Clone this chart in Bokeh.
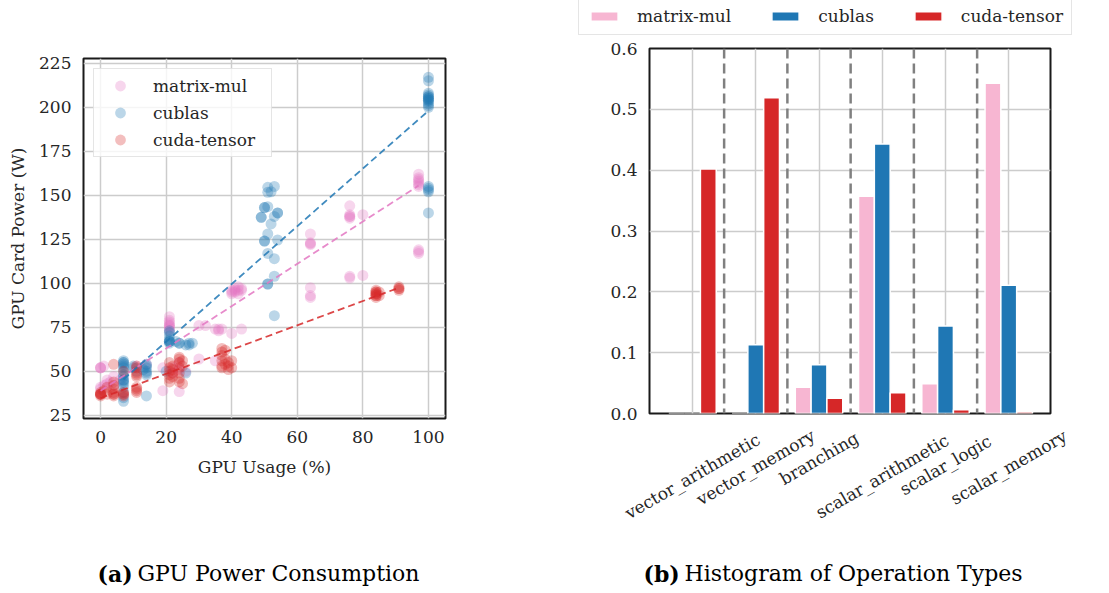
import numpy as np
from bokeh.plotting import figure
from bokeh.models import Range1d, FixedTicker, Legend, LegendItem, Label, Span, PrintfTickFormatter
from bokeh.layouts import row, column
from bokeh.embed import file_html
from bokeh.resources import INLINE

# ---------------- data: (a) GPU power consumption ----------------
series_names = ["matrix-mul", "cublas", "cuda-tensor"]

mm_x = [0, 0, 0, 0, 0, 1, 1, 2, 2, 3, 4, 4, 6, 11, 11, 14, 19, 19,
        21, 21, 21, 21, 21, 21, 21, 21, 21, 22, 22, 24, 24, 24, 26,
        30, 30, 32, 35, 35, 36, 36, 37, 40, 40, 40, 40, 41, 41, 41,
        42, 42, 42, 43, 43, 43, 64, 64, 64, 64, 64, 64, 64,
        76, 76, 76, 76, 76, 76, 76, 80, 80,
        97, 97, 97, 97, 97, 97, 97, 97, 97, 97]
mm_y = [52, 52, 52, 41, 40, 53, 42, 43, 45, 44, 47, 42, 45, 53, 52, 54, 52, 39,
        81, 79, 78, 77, 76, 76, 75, 74, 73, 52, 49, 38.5, 55, 51, 50,
        76, 57, 76, 56, 74, 73, 74, 74, 71.5, 96, 95, 94, 97, 96, 95,
        98, 96, 94, 74, 97, 96, 93, 92, 97.5, 123, 122, 122.5, 128,
        104, 103, 138, 137, 139, 144, 138, 104.5, 139,
        162, 159, 158, 157, 156, 160, 155, 119, 118, 117]

cb_x = [7, 7, 7, 7, 7, 7, 7, 7, 7, 7, 7, 7, 7, 7, 7, 7, 7,
        10, 10, 11, 13, 14, 14, 14, 14, 14, 14, 14, 20,
        21, 21, 21, 21, 21, 21, 21, 21, 23, 24, 24, 26, 26, 27, 27, 28,
        49, 49, 50, 50, 50, 50, 51, 51, 51, 51, 51, 51, 51, 52, 52,
        53, 53, 53, 53, 53, 54, 54, 54,
        100, 100, 100, 100, 100, 100, 100, 100, 100, 100, 100, 100, 100, 100,
        100, 100, 100, 100, 100]
cb_y = [56, 55, 55, 54, 53, 52, 50, 48, 47, 45, 45, 44, 43, 41, 38, 35, 33,
        53, 52, 50, 51, 54, 53, 52, 50, 49, 48, 36, 50,
        67, 67, 66, 68, 67, 70, 72, 73, 67, 66, 66, 65, 49, 65, 66, 66,
        137.5, 137.5, 143, 143, 124, 124, 154.5, 151.7, 128, 117, 99.6, 99.6, 143.5, 133.7, 152,
        138, 114, 104, 81.6, 155, 140, 140, 124.6,
        217, 215, 208, 207, 206, 205, 204, 203, 202, 201, 200, 205, 206, 204,
        155, 154, 153, 152, 140]

ct_x = [0, 0, 0, 0, 0, 0, 1, 2, 2, 4, 4, 4, 4, 4, 4, 4, 4,
        7, 7, 7, 7, 7, 11, 11, 11, 11, 11, 11, 11, 11, 11,
        21, 21, 21, 21, 21, 21, 22, 22, 22, 22,
        24, 24, 24, 24, 24, 24, 24, 25, 25, 25,
        37, 37, 37, 37, 37, 37, 38, 38, 38, 39, 39, 39, 40, 40,
        84, 84, 84, 84, 84, 84, 84, 84, 85, 85, 91, 91, 91, 91]
ct_y = [37, 37, 37, 37, 36, 38, 39, 37, 41, 37, 36, 38, 40, 42, 44, 37, 54,
        37, 37, 38, 36, 50, 38, 39, 40, 41, 47, 48, 49, 52, 53,
        50, 48, 46, 44, 52, 55, 53, 49, 47, 51,
        57, 55, 52, 49, 46, 44, 58, 53, 43, 56,
        63, 61, 59, 56, 53, 52, 62, 57, 54, 55, 51, 53, 56, 52,
        96, 95, 94, 93, 92, 95, 94, 93, 95, 93, 98, 97, 96, 97]

# trend lines (endpoints)
trend_x0 = [0, 7, 0]
trend_y0 = [39.0, 45.5, 34.8]
trend_x1 = [97, 100, 91]
trend_y1 = [155.5, 198.0, 97.5]

# ---------------- data: (b) histogram of operation types ----------------
categories = ["vector_arithmetic", "vector_memory", "branching",
              "scalar_arithmetic", "scalar_logic", "scalar_memory"]
hist_mm = [0.0, 0.0, 0.043, 0.357, 0.049, 0.543]
hist_cb = [0.0, 0.113, 0.080, 0.443, 0.144, 0.211]
hist_ct = [0.402, 0.519, 0.025, 0.034, 0.006, 0.003]

x_ticks_a = [0, 20, 40, 60, 80, 100]
y_ticks_a = [25, 50, 75, 100, 125, 150, 175, 200, 225]
y_ticks_b = [0.0, 0.1, 0.2, 0.3, 0.4, 0.5, 0.6]

caption_a = ["(a)", "GPU Power Consumption"]
caption_b = ["(b)", "Histogram of Operation Types"]

FONT = "DejaVu Serif"
TXT = "#262626"
C_PINK, C_BLUE, C_RED = "#e377c2", "#1f77b4", "#d62728"
C_PINK_L = "#f7b6d2"


def style(p):
    p.background_fill_color = "white"
    p.border_fill_color = "white"
    p.outline_line_color = "#1a1a1a"
    p.outline_line_width = 2
    for ax in p.axis:
        ax.axis_line_color = None
        ax.major_tick_line_color = None
        ax.minor_tick_line_color = None
        ax.major_tick_in = 0
        ax.major_tick_out = 0
        ax.major_label_text_font = FONT
        ax.major_label_text_font_size = "17px"
        ax.major_label_text_color = TXT
        ax.major_label_standoff = 12
        ax.axis_label_text_font = FONT
        ax.axis_label_text_font_size = "17px"
        ax.axis_label_text_font_style = "normal"
        ax.axis_label_text_color = TXT
        ax.axis_label_standoff = 8
    for g in p.grid:
        g.grid_line_color = "#cccccc"
        g.grid_line_width = 1.5


def blank(w, h, xr, yr):
    f = figure(width=w, height=h, output_backend="svg", toolbar_location=None,
               x_range=xr, y_range=yr, x_axis_type=None, y_axis_type=None,
               min_border=0, min_border_left=0, min_border_right=0,
               min_border_top=0, min_border_bottom=0)
    f.frame_align = False
    f.outline_line_color = None
    f.background_fill_color = "white"
    f.border_fill_color = "white"
    return f


# ================= (a) =================
p1 = figure(width=555, height=510, output_backend="svg", toolbar_location=None,
            x_range=Range1d(-5.2, 105.2), y_range=Range1d(23.2, 227.7),
            min_border_left=83, min_border_right=110, min_border_top=58, min_border_bottom=92)
p1.frame_align = False
p1.xaxis.axis_label = "GPU Usage (%)"
p1.yaxis.axis_label = "GPU Card Power (W)"
p1.xaxis.ticker = FixedTicker(ticks=x_ticks_a)
p1.yaxis.ticker = FixedTicker(ticks=y_ticks_a)
style(p1)
p1.xaxis.axis_label_standoff = 11

xs = [mm_x, cb_x, ct_x]
ys = [mm_y, cb_y, ct_y]
cols = [C_PINK, C_BLUE, C_RED]
items = []
for i in range(3):
    r = p1.scatter(xs[i], ys[i], size=11, fill_color=cols[i], fill_alpha=0.3, line_color=None)
    items.append(LegendItem(label=series_names[i], renderers=[r]))
for i in range(3):
    p1.line([trend_x0[i], trend_x1[i]], [trend_y0[i], trend_y1[i]], line_color=cols[i],
            line_alpha=0.85, line_width=1.8, line_dash="7 4")

leg1 = Legend(items=items, location="top_left", margin=10, padding=3,
              glyph_width=46, glyph_height=27, label_height=27, label_width=115,
              spacing=0, label_standoff=10,
              label_text_font=FONT, label_text_font_size="17px", label_text_color=TXT,
              border_line_color="#cccccc", border_line_width=1.5,
              background_fill_color="white", background_fill_alpha=0.8)
p1.add_layout(leg1, "center")

# caption (a) strip
c1 = blank(555, 83, Range1d(0, 555), Range1d(0, 83))
c1.add_layout(Label(x=97, y=20, text=caption_a[0], text_font=FONT, text_font_size="22px",
                    text_font_style="bold", text_color="black",
                    text_baseline="middle", text_align="left"))
c1.add_layout(Label(x=137, y=20, text=caption_a[1], text_font=FONT, text_font_size="22px",
                    text_color="black", text_baseline="middle", text_align="left"))

# ================= (b) =================
XR0, XR1 = -0.68, 5.66
p2 = figure(width=554, height=384, output_backend="svg", toolbar_location=None,
            x_range=Range1d(XR0, XR1), y_range=Range1d(0, 0.6),
            min_border_left=94, min_border_right=59, min_border_top=10, min_border_bottom=9)
p2.frame_align = False
idx = np.arange(len(categories))
p2.xaxis.ticker = FixedTicker(ticks=list(idx))
p2.yaxis.ticker = FixedTicker(ticks=y_ticks_b)
p2.yaxis.formatter = PrintfTickFormatter(format="%.1f")
style(p2)
p2.xaxis.visible = False

bw = 0.25
bar_vals = [hist_mm, hist_cb, hist_ct]
bar_cols = [C_PINK_L, C_BLUE, C_RED]
for k in range(3):
    p2.vbar(x=idx + (k - 1) * bw, top=bar_vals[k], width=bw, bottom=0,
            fill_color=bar_cols[k], line_color="white", line_width=1.5)

for i in range(len(categories) - 1):
    p2.add_layout(Span(location=i + 0.5, dimension="height", line_color="#808080",
                       line_width=2.5, line_dash="10 5"))

# legend strip above (b): proxy bars kept outside the strip's visible range
t2 = blank(554, 38, Range1d(0, 1), Range1d(0, 1))
items2 = []
for k in range(3):
    r = t2.vbar(x=[10], top=[1], bottom=[0.5], width=0.1,
                fill_color=bar_cols[k], line_color="white", line_width=1.5)
    items2.append(LegendItem(label=series_names[k], renderers=[r]))
leg2 = Legend(items=items2, orientation="horizontal", location=(23, 3), padding=8, margin=0,
              glyph_width=34, glyph_height=12, label_height=17, spacing=37, label_standoff=16,
              label_text_font=FONT, label_text_font_size="17px", label_text_color=TXT,
              border_line_color="#cccccc", border_line_width=1.5,
              background_fill_color="white", background_fill_alpha=0.8)
t2.add_layout(leg2, "center")

# category labels + caption strip below (b)
ppu = 401.0 / (XR1 - XR0)
c2 = blank(554, 171, Range1d(XR0 - 94 / ppu, XR1 + 59 / ppu), Range1d(0, 171))
frame_bottom_in_strip = 171 + 9.3   # p2 frame bottom, measured from the strip's bottom
for i, cat in enumerate(categories):
    L = 9.0 * len(cat)
    off = 17 + (0.5 * L + 0.866 * 18) / 2
    c2.add_layout(Label(x=i, y=frame_bottom_in_strip - off, text=cat, angle=30, angle_units="deg",
                        text_align="center", text_baseline="middle",
                        text_font=FONT, text_font_size="17px", text_color=TXT))
c2.add_layout(Label(x=88, y=20, x_units="screen", text=caption_b[0], text_font=FONT,
                    text_font_size="22px", text_font_style="bold", text_color="black",
                    text_baseline="middle", text_align="left"))
c2.add_layout(Label(x=129, y=20, x_units="screen", text=caption_b[1], text_font=FONT,
                    text_font_size="22px", text_color="black",
                    text_baseline="middle", text_align="left"))

layout = row(column(p1, c1), column(t2, p2, c2))
open("out.html", "w").write(file_html(layout, INLINE))
